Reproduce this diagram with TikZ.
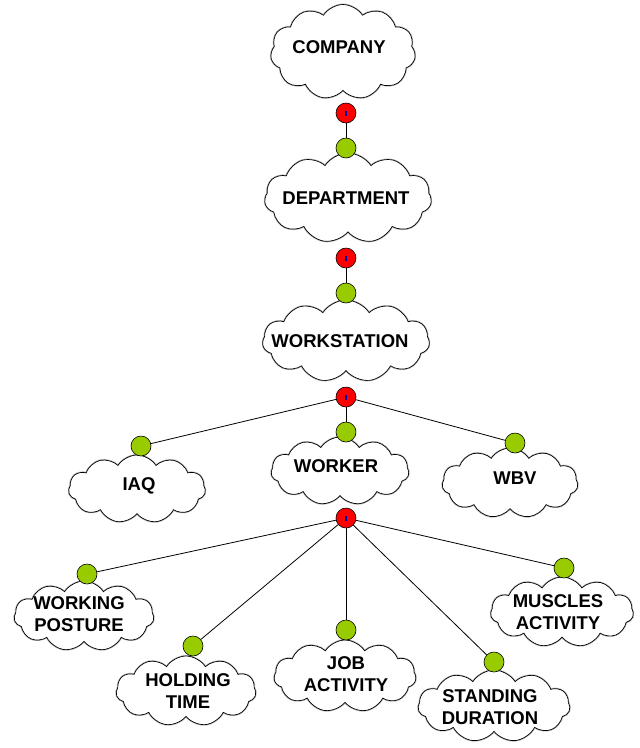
\documentclass[tikz,border=0pt]{standalone}
\usepackage{fontspec}
\setmainfont{Liberation Sans}
\usetikzlibrary{shapes.symbols}
\definecolor{dotgreen}{HTML}{99CC00}
\definecolor{dotred}{HTML}{FF0000}
\begin{document}
\begin{tikzpicture}[x=1pt,y=-1pt,
  cloudbox/.style={cloud, cloud puffs=11, cloud puff arc=115, cloud ignores aspect, draw=black, line width=0.7pt,
    preaction={draw=gray!55, line width=2pt}, fill=white, inner sep=0pt},
  label/.style={font=\fontsize{18.5}{22}\selectfont\bfseries, align=center, inner sep=0pt},
  reddot/.style={circle, draw=black, line width=0.6pt, fill=dotred, minimum size=20pt, inner sep=0pt},
  greendot/.style={circle, draw=black, line width=0.6pt, fill=dotgreen, minimum size=20pt, inner sep=0pt},
  link/.style={draw=black, line width=0.8pt}]
\useasboundingbox (0,0) rectangle (640,748);
% clouds
\node[cloudbox, minimum width=145pt, minimum height=95pt] (company) at (343,52) {};
\node[cloudbox, minimum width=167pt, minimum height=90pt] (dept) at (348,198) {};
\node[cloudbox, minimum width=167pt, minimum height=82pt] (ws) at (346,341) {};
\node[cloudbox, minimum width=137pt, minimum height=68pt] (iaq) at (137,489) {};
\node[cloudbox, minimum width=138pt, minimum height=68pt] (worker) at (340,471) {};
\node[cloudbox, minimum width=136pt, minimum height=70pt] (wbv) at (510,483) {};
\node[cloudbox, minimum width=140pt, minimum height=70pt] (wp) at (84,616) {};
\node[cloudbox, minimum width=140pt, minimum height=70pt] (ht) at (186,691) {};
\node[cloudbox, minimum width=142pt, minimum height=72pt] (ja) at (345,676) {};
\node[cloudbox, minimum width=152pt, minimum height=72pt] (sd) at (494,706) {};
\node[cloudbox, minimum width=143pt, minimum height=70pt] (ma) at (562,612) {};
% texts
\node[label] (companyt) at (339,47) {COMPANY};
\node[label] (deptt) at (346,198) {DEPARTMENT};
\node[label] (wst) at (340,341) {WORKSTATION};
\node[label] (iaqt) at (139,486) {IAQ};
\node[label] (workert) at (336,466) {WORKER};
\node[label] (wbvt) at (515,478) {WBV};
\node[label] (wpt) at (79,614) {WORKING\\POSTURE};
\node[label] (htt) at (188,691) {HOLDING\\TIME};
\node[label] (jat) at (346,674) {JOB\\ACTIVITY};
\node[label] (sdt) at (490,707) {STANDING\\DURATION};
\node[label] (mat) at (558,612) {MUSCLES\\ACTIVITY};
% dots
\node[reddot] (r1) at (346,113) {};
\node[greendot] (g1) at (346,148) {};
\node[reddot] (r2) at (346,258) {};
\node[greendot] (g2) at (346,293) {};
\node[reddot] (r3) at (346,397) {};
\node[greendot] (giaq) at (141,446) {};
\node[greendot] (gworker) at (346,432) {};
\node[greendot] (gwbv) at (515,443) {};
\node[reddot] (r4) at (346,518) {};
\node[greendot] (gwp) at (87,574) {};
\node[greendot] (ght) at (193,646) {};
\node[greendot] (gja) at (346,630) {};
\node[greendot] (gsd) at (494,662) {};
\node[greendot] (gma) at (564,568) {};
% tiny blue marks in red dots
\foreach \r in {r1,r2,r3,r4}
  \fill[blue!70!black] ([xshift=-0.8pt,yshift=-2.5pt]\r.center) rectangle ([xshift=0.8pt,yshift=2.5pt]\r.center);
% connectors
\draw[link] (r1) -- (g1);
\draw[link] (r2) -- (g2);
\draw[link] (r3) -- (giaq);
\draw[link] (r3) -- (gworker);
\draw[link] (r3) -- (gwbv);
\draw[link] (r4) -- (gwp);
\draw[link] (r4) -- (ght);
\draw[link] (r4) -- (gja);
\draw[link] (r4) -- (gsd);
\draw[link] (r4) -- (gma);
\end{tikzpicture}
\end{document}
